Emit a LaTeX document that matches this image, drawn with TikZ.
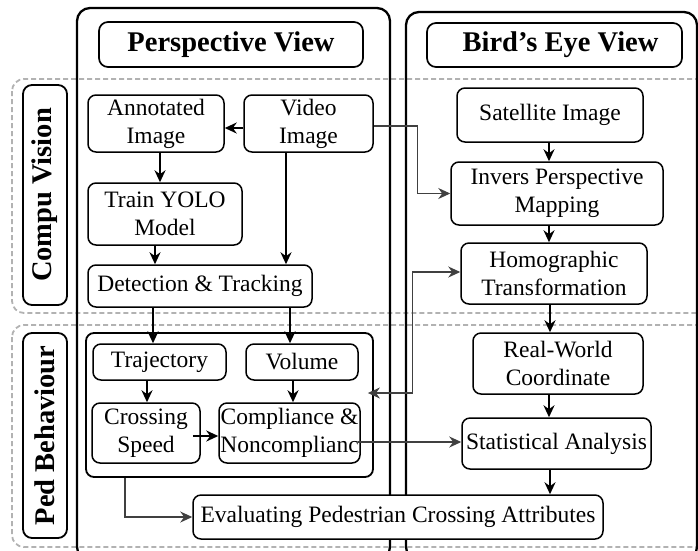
\documentclass[tikz,border=0pt]{standalone}
\usepackage{fontspec}
\setmainfont{Liberation Serif}
\usetikzlibrary{arrows.meta,calc}
\tikzset{
  box/.style={draw=black, fill=white, line width=1.5pt, rounded corners=8pt, inner sep=0pt, align=center,
    font=\fontsize{23.5}{28}\selectfont},
  titlebox/.style={draw=black, fill=white, line width=1.7pt, rounded corners=9pt, inner sep=0pt,
    font=\fontsize{28.5}{32}\selectfont\bfseries},
  outer/.style={draw=black, line width=2.3pt, rounded corners=13pt},
  region/.style={draw=black!30, line width=1.8pt, dash pattern=on 5pt off 3pt, rounded corners=12pt},
  sidebox/.style={draw=black, fill=white, line width=1.8pt, rounded corners=9pt, inner sep=0pt, rotate=90,
    font=\fontsize{28.5}{32}\selectfont\bfseries},
  arr/.style={line width=2.1pt, -{Stealth[length=12pt,width=11pt]}},
  tarr/.style={line width=1.2pt, draw=black!75, -{Stealth[length=12pt,width=11pt]}},
}
\begin{document}
\begin{tikzpicture}[x=1pt,y=-1pt]
\useasboundingbox (0,0) rectangle (698,550);
% dashed regions
\draw[region] (12,79) rectangle (712,313);
\draw[region] (12,325) rectangle (712,547);
% outer column boxes
\draw[outer] (77,8) rectangle (390,560);
\draw[outer] (406,12) rectangle (697,560);
% titles
\node[titlebox, minimum width=264, minimum height=45] (pvt) at (231,44.5) {Perspective View};
\node[titlebox, minimum width=255, minimum height=44] (bet) at (554.5,45) {\hspace*{12pt}Bird’s Eye View};
% side labels
\node[sidebox, minimum width=220, minimum height=44] (cvl) at (45,195) {Compu Vision};
\node[sidebox, minimum width=205, minimum height=44] (pbl) at (45,435.5) {Ped Behaviour};
% perspective nodes
\node[box, minimum width=136, minimum height=57] (ann) at (156,123.5) {Annotated\\Image};
\node[box, minimum width=129, minimum height=57] (vid) at (308.5,123.5) {Video\\Image};
\node[box, minimum width=154, minimum height=62] (yolo) at (165,214) {Train YOLO\\Model};
\node[box, minimum width=224, minimum height=42] (det) at (200,286) {Detection \& Tracking};
\node[box, minimum width=287, minimum height=144, line width=1.8pt] (pedbox) at (229.5,405) {};
\node[box, minimum width=133, minimum height=36] (traj) at (159.5,362) {Trajectory};
\node[box, minimum width=112, minimum height=36] (vol) at (302,362) {\raisebox{-5pt}{Volume}};
\node[box, minimum width=108, minimum height=60] (cross) at (146,433) {Crossing\\Speed};
\node[box, minimum width=141, minimum height=60] (comp) at (289.5,433) {Compliance \&\\Noncomplianc};
% bird's eye nodes
\node[box, minimum width=186, minimum height=54] (sat) at (550,115) {Satellite Image};
\node[box, minimum width=212, minimum height=63] (ipm) at (557,193.5) {Invers Perspective\\Mapping};
\node[box, minimum width=186, minimum height=61] (hom) at (554,273.5) {Homographic\\Transformation};
\node[box, minimum width=170, minimum height=61] (rw) at (558,363.5) {Real-World\\Coordinate};
\node[box, minimum width=189, minimum height=51] (stat) at (556.5,443.5) {Statistical Analysis};
\node[box, minimum width=410, minimum height=44] (eval) at (398,517) {Evaluating Pedestrian Crossing Attributes};
% connectors
\draw[arr] ([yshift=-4.5pt]vid.west) -- ([yshift=-4.5pt]ann.east);
\draw[arr] ([xshift=4pt]ann.south) -- ([xshift=4pt]ann.south |- yolo.north);
\draw[arr] ([xshift=-10pt]yolo.south) -- ([xshift=-10pt]yolo.south |- det.north);
\draw[arr] ([xshift=-22.5pt]vid.south) -- ([xshift=-22.5pt]vid.south |- det.north);
\draw[tarr] ([yshift=-2.5pt]vid.east) -- ++(44,0) |- (ipm.west);
\draw[arr] ([xshift=-1pt]sat.south) -- ([xshift=-1pt]sat.south |- ipm.north);
\draw[arr] ([xshift=-8pt]ipm.south) -- ([xshift=-8pt]ipm.south |- hom.north);
\draw[arr] ([xshift=-4pt]hom.south) -- ([xshift=-4pt]hom.south |- rw.north);
\draw[arr] ([xshift=-9pt]rw.south) -- ([xshift=-9pt]rw.south |- stat.north);
\draw[arr] ([xshift=-6.5pt]stat.south) -- ([xshift=-6.5pt]stat.south |- eval.north);
\draw[tarr, {Stealth[length=12pt,width=11pt]}-{Stealth[length=12pt,width=11pt]}]
  ([yshift=1.5pt]hom.west) -- ++(-48,0) |- ([yshift=12pt,xshift=-6pt]pedbox.east);
\draw[arr] ([xshift=-47pt]det.south) -- ([xshift=-47pt]det.south |- traj.north);
\draw[arr] ([xshift=90pt]det.south) -- ([xshift=90pt]det.south |- vol.north);
\draw[arr] ([xshift=-12.5pt]traj.south) -- ([xshift=-12.5pt]traj.south |- cross.north);
\draw[arr] ([xshift=-9pt]vol.south) -- ([xshift=-9pt]vol.south |- comp.north);
\draw[arr] ([xshift=-8pt,yshift=-3pt]cross.east) -- ([yshift=-3pt]cross.east -| comp.west);
\draw[tarr] ([xshift=-3pt,yshift=-9pt]comp.east) -- ([yshift=-9pt]comp.east -| stat.west);
\draw[tarr] ([xshift=-104.5pt]pedbox.south) |- (eval.west);
\end{tikzpicture}
\end{document}
